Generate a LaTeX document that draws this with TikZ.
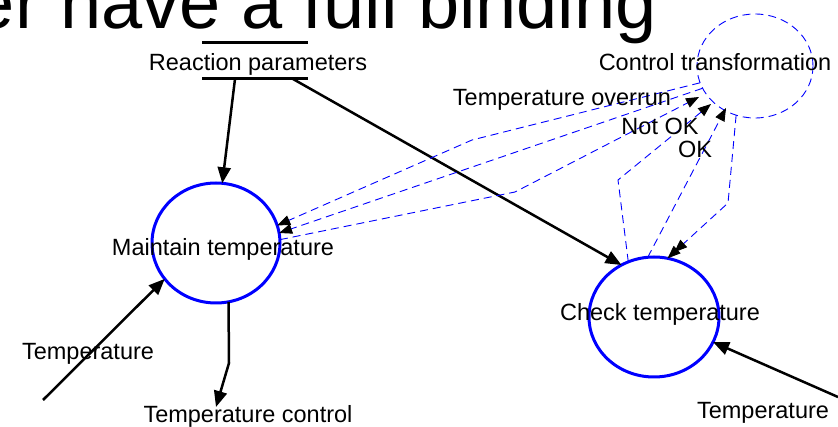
\documentclass[tikz,border=0pt]{standalone}
\usepackage{fontspec}
\setmainfont{Liberation Sans}
\usetikzlibrary{shapes.geometric,arrows.meta}

\begin{document}
\begin{tikzpicture}[x=1pt,y=-1pt,
  lbl/.style={inner sep=0pt, anchor=base, font=\fontsize{23.5}{28}\selectfont},
  proc/.style={ellipse, draw=blue, line width=3pt, inner sep=0pt, outer sep=0pt},
  ctrlproc/.style={ellipse, draw=blue, line width=0.9pt, dash pattern=on 8pt off 5pt, inner sep=0pt, outer sep=0pt},
  flow/.style={line width=2.5pt, -{Triangle[length=16pt,width=13pt]}},
  ctl/.style={draw=blue, line width=0.9pt, dash pattern=on 8pt off 5pt, -{Triangle[length=13pt,width=10pt,color=black]}},
  ctlpair/.style={draw=blue, line width=0.9pt, dash pattern=on 8pt off 5pt,
    -{Triangle[length=13pt,width=10pt,color=black,sep=-4pt] Triangle[length=13pt,width=10pt,color=black]}},
  storebar/.style={line width=3pt}
]
\useasboundingbox (0,0) rectangle (838,427);

% heading line
\node[anchor=base east, inner sep=0pt, font=\fontsize{74}{82}\selectfont] (title) at (657,29) {er have a full binding};

% processes
\node[proc, minimum width=128pt, minimum height=120pt] (maint) at (216,243) {};
\node[lbl] (maintlbl) at (223,256) {Maintain temperature};
\node[proc, minimum width=130pt, minimum height=120pt] (check) at (654,317) {};
\node[lbl] (checklbl) at (660,321) {Check temperature};
\node[ctrlproc, minimum width=116pt, minimum height=104pt] (ctrl) at (755,66) {};
\node[lbl] (ctrllbl) at (715,71) {Control transformation};

% data store
\node[lbl] (rp) at (258,71) {Reaction parameters};
\coordinate (rptl) at (202,43);
\coordinate (rptr) at (308,43);
\coordinate (rpbl) at (202,79);
\coordinate (rpbr) at (308,79);
\draw[storebar] (rptl) -- (rptr);
\draw[storebar] (rpbl) -- (rpbr);
\coordinate (rpout1) at (235,79);
\coordinate (rpout2) at (293,79);

% data flows
\draw[flow] (rpout1) -- (maint.84);
\draw[flow] (rpout2) -- (check.122);

\coordinate (tinL) at (43,400);
\draw[flow] (tinL) -- (maint.215);
\node[lbl] (tinLlbl) at (88,360) {Temperature};

\coordinate (tcbend) at (229,363);
\coordinate (tcend) at (216,407);
\draw[flow] (maint.282) -- (tcbend) -- (tcend);
\node[lbl] (tclbl) at (248,422) {Temperature control};

\coordinate (tinR) at (838,397);
\draw[flow] (tinR) -- (check.337);
\node[lbl] (tinRlbl) at (763,418) {Temperature};

% control flows
\coordinate (bendA) at (472,140);
\draw[ctl] (ctrl.197) -- (bendA) -- (maint.16);
\draw[ctl] (ctrl.203) -- (maint.9);

\coordinate (bendC) at (515,192);
\coordinate (ovtip) at (699,97);
\draw[ctl] (maint.3) -- (bendC) -- (ovtip);
\node[lbl] (ovlbl) at (562,106) {Temperature overrun};

\coordinate (bendN) at (618,180);
\coordinate (notoktip) at (711,104);
\draw[ctl] (check.115) -- (bendN) -- (notoktip);
\node[lbl] (notoklbl) at (660,135) {Not OK};

\coordinate (oktip) at (726,108);
\draw[ctl] (check.96) -- (oktip);
\node[lbl] (oklbl) at (695,158) {OK};

\coordinate (bendK) at (728,203);
\draw[ctlpair] (ctrl.249) -- (bendK) -- (check.77);
\end{tikzpicture}
\end{document}
